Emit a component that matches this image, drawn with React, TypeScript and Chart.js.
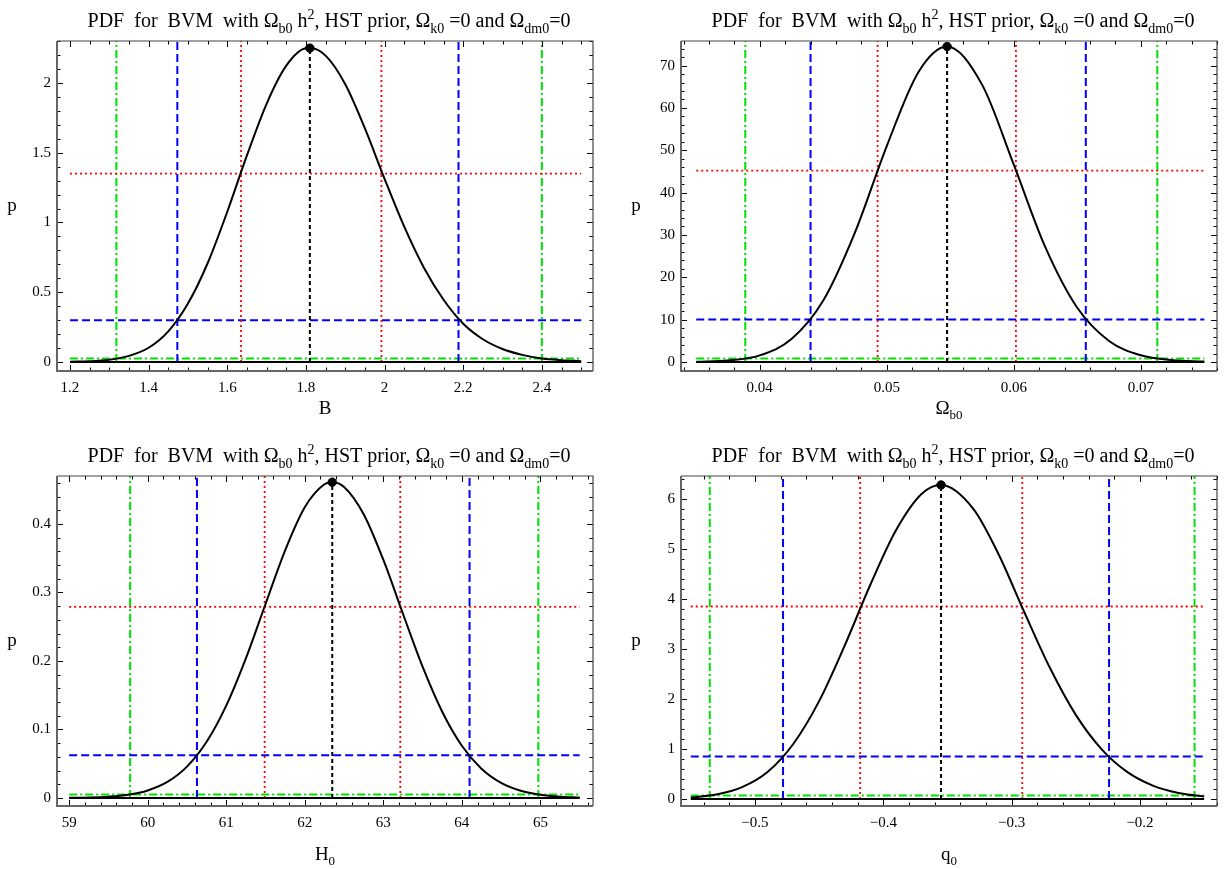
import React, { useEffect, useRef } from "react";
import { Chart, registerables } from "chart.js";

Chart.register(...registerables);

// ---------- Panel 1 : B ----------
const B_X = [1.2, 1.25, 1.3, 1.35, 1.4, 1.45, 1.5, 1.55, 1.6, 1.65, 1.7, 1.75, 1.8, 1.81, 1.85, 1.9, 1.95, 2.0, 2.05, 2.1, 2.15, 2.2, 2.25, 2.3, 2.35, 2.4, 2.45, 2.5];
const B_P = [0.002, 0.005, 0.016, 0.044, 0.102, 0.22, 0.419, 0.708, 1.077, 1.481, 1.851, 2.124, 2.249, 2.25, 2.196, 1.991, 1.674, 1.313, 0.97, 0.676, 0.446, 0.274, 0.163, 0.093, 0.051, 0.025, 0.013, 0.006];
const B_LEVELS = [1.35, 0.3, 0.025]; // red, blue, green
const B_LOW = [1.635, 1.473, 1.318];
const B_HIGH = [1.992, 2.188, 2.4];
const B_PEAK = [1.81, 2.25];
const B_XTICKS = [1.2, 1.4, 1.6, 1.8, 2, 2.2, 2.4];
const B_YTICKS = [0, 0.5, 1, 1.5, 2];

// ---------- Panel 2 : Omega_b0 ----------
const OM_X = [0.035, 0.0375, 0.04, 0.0425, 0.045, 0.0475, 0.05, 0.0525, 0.05475, 0.0575, 0.06, 0.0625, 0.065, 0.0675, 0.07, 0.0725, 0.075];
const OM_P = [0.055, 0.37, 1.57, 5.42, 14.5, 30.6, 51.0, 68.5, 74.5, 65.5, 46.6, 27.0, 12.8, 4.97, 1.59, 0.43, 0.1];
const OM_LEVELS = [45.2, 10.05, 0.83];
const OM_LOW = [0.04928, 0.044, 0.03886];
const OM_HIGH = [0.06017, 0.06567, 0.0713];
const OM_PEAK = [0.05475, 74.5];
const OM_XTICKS = [0.04, 0.05, 0.06, 0.07];
const OM_YTICKS = [0, 10, 20, 30, 40, 50, 60, 70];

// ---------- Panel 3 : H0 ----------
const H_X = [59, 59.25, 59.5, 59.75, 60, 60.25, 60.5, 60.75, 61, 61.25, 61.5, 61.75, 62, 62.25, 62.35, 62.5, 62.75, 63, 63.25, 63.5, 63.75, 64, 64.25, 64.5, 64.75, 65, 65.25, 65.5];
const H_P = [0.0002, 0.0007, 0.0019, 0.0047, 0.011, 0.0234, 0.0458, 0.0821, 0.1349, 0.2038, 0.2832, 0.3615, 0.4244, 0.4579, 0.461, 0.4541, 0.4143, 0.3478, 0.2689, 0.1916, 0.1259, 0.0763, 0.0427, 0.022, 0.0105, 0.0047, 0.0019, 0.0007];
const H_LEVELS = [0.279, 0.0623, 0.0051];
const H_LOW = [61.489, 60.627, 59.776];
const H_HIGH = [63.216, 64.098, 64.974];
const H_PEAK = [62.35, 0.461];
const H_XTICKS = [59, 60, 61, 62, 63, 64, 65];
const H_YTICKS = [0, 0.1, 0.2, 0.3, 0.4];

// ---------- Panel 4 : q0 ----------
const Q_X = [-0.55, -0.53, -0.51, -0.49, -0.47, -0.45, -0.43, -0.41, -0.39, -0.37, -0.355, -0.33, -0.31, -0.29, -0.27, -0.25, -0.23, -0.21, -0.19, -0.17, -0.15];
const Q_P = [0.03, 0.089, 0.236, 0.543, 1.105, 1.957, 3.072, 4.29, 5.38, 6.105, 6.28, 5.809, 4.886, 3.73, 2.614, 1.683, 0.999, 0.542, 0.268, 0.121, 0.05];
const Q_LEVELS = [3.85, 0.85, 0.07];
const Q_LOW = [-0.418, -0.4781, -0.5352];
const Q_HIGH = [-0.2917, -0.2241, -0.1575];
const Q_PEAK = [-0.355, 6.28];
const Q_XTICKS = [-0.5, -0.4, -0.3, -0.2];
const Q_YTICKS = [0, 1, 2, 3, 4, 5, 6];

type Seg = [string, number]; // 0 normal, 1 subscript, 2 superscript

const TITLE: Seg[] = [
  ["PDF  for  BVM  with \u03A9", 0],
  ["b0", 1],
  [" h", 0],
  ["2", 2],
  [", HST prior, \u03A9", 0],
  ["k0", 1],
  [" =0 and \u03A9", 0],
  ["dm0", 1],
  ["=0", 0],
];

const SERIF = "'Liberation Serif', 'Times New Roman', serif";
const COLORS = ["#ff0000", "#0000ff", "#00e000"];
const DASHES = [[2, 3], [8, 4], [8, 3, 2, 3]];
const WIDTHS = [1.8, 2, 2];

function drawRich(ctx: CanvasRenderingContext2D, segs: Seg[], cx: number, baseline: number, size: number) {
  const small = Math.round(size * 0.68);
  const fontFor = (k: number) => `${k === 0 ? size : small}px ${SERIF}`;
  let total = 0;
  for (const [t, k] of segs) {
    ctx.font = fontFor(k);
    total += ctx.measureText(t).width;
  }
  let x = cx - total / 2;
  ctx.textAlign = "left";
  ctx.textBaseline = "alphabetic";
  ctx.fillStyle = "#000";
  for (const [t, k] of segs) {
    ctx.font = fontFor(k);
    const dy = k === 1 ? size * 0.28 : k === 2 ? -size * 0.42 : 0;
    ctx.fillText(t, x, baseline + dy);
    x += ctx.measureText(t).width;
  }
}

function fmt(v: number) {
  const r = Math.round(v * 1e6) / 1e6;
  return String(r).replace("-", "\u2212");
}

interface PanelSpec {
  xs: number[];
  ps: number[];
  levels: number[];
  low: number[];
  high: number[];
  peak: number[];
  xticks: number[];
  yticks: number[];
  xmin: number;
  xmax: number;
  ymin: number;
  ymax: number;
  xminor: number;
  yminor: number;
  xlabel: Seg[];
  left: number;
  top: number;
  right: number;
  bottom: number;
  xlabelOffset: number;
  height: number;
}

function Panel({ spec }: { spec: PanelSpec }) {
  const ref = useRef<HTMLCanvasElement | null>(null);
  useEffect(() => {
    const s = spec;
    const first = s.xs[0];
    const last = s.xs[s.xs.length - 1];
    const datasets: any[] = [];
    datasets.push({
      data: [{ x: s.peak[0], y: s.peak[1] }],
      showLine: false,
      pointRadius: 4.2,
      pointBackgroundColor: "#000",
      pointBorderColor: "#000",
      borderColor: "#000",
    });
    datasets.push({
      data: s.xs.map((x, i) => ({ x, y: s.ps[i] })),
      borderColor: "#000",
      borderWidth: 2,
      pointRadius: 0,
      cubicInterpolationMode: "monotone",
    });
    datasets.push({
      data: [{ x: first, y: 0 }, { x: last, y: 0 }],
      borderColor: "#000",
      borderWidth: 2,
      pointRadius: 0,
    });
    datasets.push({
      data: [{ x: s.peak[0], y: 0 }, { x: s.peak[0], y: s.peak[1] }],
      borderColor: "#000",
      borderWidth: 2,
      borderDash: [4, 3],
      pointRadius: 0,
    });
    for (let i = 0; i < 3; i++) {
      const common = {
        borderColor: COLORS[i],
        borderWidth: WIDTHS[i],
        borderDash: DASHES[i],
        pointRadius: 0,
        borderCapStyle: "butt",
      };
      datasets.push({ ...common, data: [{ x: s.low[i], y: 0 }, { x: s.low[i], y: s.ymax }] });
      datasets.push({ ...common, data: [{ x: s.high[i], y: 0 }, { x: s.high[i], y: s.ymax }] });
      datasets.push({ ...common, data: [{ x: first, y: s.levels[i] }, { x: last, y: s.levels[i] }] });
    }

    const framePlugin = {
      id: "frameTicks",
      afterDraw(chart: any) {
        const { ctx, chartArea: a, scales } = chart;
        const xs = scales.x;
        const ys = scales.y;
        ctx.save();
        ctx.strokeStyle = "#000";
        ctx.lineWidth = 1;
        const isMajor = (v: number, arr: number[]) => arr.some((m) => Math.abs(m - v) < 1e-9 * Math.max(1, Math.abs(m)) + 1e-12);
        let k0 = Math.ceil(s.xmin / s.xminor - 1e-9);
        for (let k = k0; k * s.xminor <= s.xmax + 1e-12; k++) {
          const v = Math.round(k * s.xminor * 1e9) / 1e9;
          const px = Math.round(xs.getPixelForValue(v)) + 0.5;
          const len = isMajor(v, s.xticks) ? 6 : 3.5;
          ctx.beginPath();
          ctx.moveTo(px, a.bottom);
          ctx.lineTo(px, a.bottom - len);
          ctx.moveTo(px, a.top);
          ctx.lineTo(px, a.top + len);
          ctx.stroke();
        }
        k0 = Math.ceil(s.ymin / s.yminor - 1e-9);
        for (let k = k0; k * s.yminor <= s.ymax + 1e-12; k++) {
          const v = Math.round(k * s.yminor * 1e9) / 1e9;
          const py = Math.round(ys.getPixelForValue(v)) + 0.5;
          const len = isMajor(v, s.yticks) ? 6 : 3.5;
          ctx.beginPath();
          ctx.moveTo(a.left, py);
          ctx.lineTo(a.left + len, py);
          ctx.moveTo(a.right, py);
          ctx.lineTo(a.right - len, py);
          ctx.stroke();
        }
        ctx.strokeStyle = "#444";
        ctx.lineWidth = 1.2;
        ctx.beginPath();
        ctx.moveTo(a.left, a.top);
        ctx.lineTo(a.right, a.top);
        ctx.lineTo(a.right, a.bottom);
        ctx.stroke();
        ctx.strokeStyle = "#666";
        ctx.lineWidth = 2;
        ctx.beginPath();
        ctx.moveTo(a.left, a.top);
        ctx.lineTo(a.left, a.bottom);
        ctx.lineTo(a.right, a.bottom);
        ctx.stroke();
        const cx = (a.left + a.right) / 2;
        drawRich(ctx, TITLE, cx + 4, a.top - 14, 20);
        drawRich(ctx, s.xlabel, cx, a.bottom + s.xlabelOffset, 19);
        drawRich(ctx, [["p", 0]], a.left - 45, (a.top + a.bottom) / 2 + 5, 19);
        ctx.restore();
      },
    };

    const tickFont = { family: SERIF, size: 15 };
    const chart = new Chart(ref.current as HTMLCanvasElement, {
      type: "line",
      data: { datasets },
      options: {
        animation: false,
        responsive: false,
        layout: { padding: { top: s.top, right: s.right, left: 0, bottom: 0 } },
        plugins: { legend: { display: false }, tooltip: { enabled: false }, title: { display: false } },
        scales: {
          x: {
            type: "linear",
            min: s.xmin,
            max: s.xmax,
            grid: { display: false, drawTicks: false },
            border: { display: false },
            ticks: { font: tickFont, color: "#000", padding: 8, maxRotation: 0, autoSkip: false, callback: (v: any) => fmt(Number(v)) },
            afterBuildTicks: (sc: any) => {
              sc.ticks = s.xticks.map((v) => ({ value: v }));
            },
            afterFit: (sc: any) => {
              sc.height = s.bottom;
            },
          },
          y: {
            type: "linear",
            min: s.ymin,
            max: s.ymax,
            grid: { display: false, drawTicks: false },
            border: { display: false },
            ticks: { font: tickFont, color: "#000", padding: 6, autoSkip: false, callback: (v: any) => fmt(Number(v)) },
            afterBuildTicks: (sc: any) => {
              sc.ticks = s.yticks.map((v) => ({ value: v }));
            },
            afterFit: (sc: any) => {
              sc.width = s.left;
            },
          },
        },
      } as any,
      plugins: [framePlugin],
    });
    return () => chart.destroy();
  }, [spec]);
  return <canvas ref={ref} width={614} height={spec.height} style={{ display: "block", width: 614, height: spec.height }} />;
}

const SPECS: PanelSpec[] = [
  {
    xs: B_X, ps: B_P, levels: B_LEVELS, low: B_LOW, high: B_HIGH, peak: B_PEAK,
    xticks: B_XTICKS, yticks: B_YTICKS,
    xmin: 1.167, xmax: 2.53, ymin: -0.0645, ymax: 2.301, xminor: 0.05, yminor: 0.1,
    xlabel: [["B", 0]], left: 57, top: 41, right: 21, bottom: 63, xlabelOffset: 43, height: 434,
  },
  {
    xs: OM_X, ps: OM_P, levels: OM_LEVELS, low: OM_LOW, high: OM_HIGH, peak: OM_PEAK,
    xticks: OM_XTICKS, yticks: OM_YTICKS,
    xmin: 0.0338, xmax: 0.0760, ymin: -2.12, ymax: 75.8, xminor: 0.002, yminor: 2,
    xlabel: [["\u03A9", 0], ["b0", 1]], left: 67, top: 41, right: 11, bottom: 63, xlabelOffset: 43, height: 434,
  },
  {
    xs: H_X, ps: H_P, levels: H_LEVELS, low: H_LOW, high: H_HIGH, peak: H_PEAK,
    xticks: H_XTICKS, yticks: H_YTICKS,
    xmin: 58.845, xmax: 65.67, ymin: -0.0117, ymax: 0.47, xminor: 0.2, yminor: 0.02,
    xlabel: [["H", 0], ["0", 1]], left: 57, top: 42, right: 21, bottom: 63, xlabelOffset: 54, height: 435,
  },
  {
    xs: Q_X, ps: Q_P, levels: Q_LEVELS, low: Q_LOW, high: Q_HIGH, peak: Q_PEAK,
    xticks: Q_XTICKS, yticks: Q_YTICKS,
    xmin: -0.5576, xmax: -0.14, ymin: -0.14, ymax: 6.46, xminor: 0.02, yminor: 0.2,
    xlabel: [["q", 0], ["0", 1]], left: 67, top: 42, right: 11, bottom: 63, xlabelOffset: 54, height: 435,
  },
];

export default function App() {
  const pos = [
    [0, 0],
    [614, 0],
    [0, 434],
    [614, 434],
  ];
  return (
    <div style={{ position: "fixed", left: 0, top: 0, width: 1228, height: 869, background: "#fff", overflow: "hidden" }}>
      {SPECS.map((s, i) => (
        <div key={i} style={{ position: "absolute", left: pos[i][0], top: pos[i][1], width: 614, height: s.height }}>
          <Panel spec={s} />
        </div>
      ))}
    </div>
  );
}
